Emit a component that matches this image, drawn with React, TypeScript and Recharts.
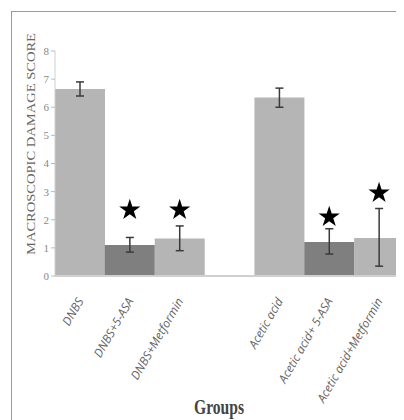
import { Bar, Cell, ComposedChart, ErrorBar, Label, Scatter, XAxis, YAxis, ZAxis } from "recharts";

const groups = [
  "DNBS",
  "DNBS+5-ASA",
  "DNBS+Metformin",
  "",
  "Acetic acid",
  "Acetic acid+ 5-ASA",
  "Acetic acid+Metformin",
];
const scores = [6.65, 1.1, 1.33, null, 6.35, 1.21, 1.35];
const errors = [
  [0.25, 0.25],
  [0.25, 0.27],
  [0.43, 0.45],
  null,
  [0.35, 0.33],
  [0.43, 0.47],
  [1.0, 1.05],
];
const stars = [null, 2.35, 2.35, null, null, 2.1, 2.95];
const dark = [false, true, false, false, false, true, false];
const yTicks = [0, 1, 2, 3, 4, 5, 6, 7, 8];

const data = groups.map((g, i) => ({
  group: g,
  score: scores[i],
  err: errors[i],
  star: stars[i],
}));

function GroupTick({ x, y, payload }: any) {
  const tx = x + 4;
  const ty = y + 17;
  return (
    <text
      x={tx}
      y={ty}
      transform={`rotate(-60, ${tx}, ${ty})`}
      textAnchor="end"
      fontSize={12}
      fontStyle="italic"
      fontFamily="'Open Sans', sans-serif"
      fill="#666"
    >
      {payload.value}
    </text>
  );
}

function YTitle({ viewBox }: any) {
  const cx = 22;
  const cy = 136;
  return (
    <text
      x={cx}
      y={cy}
      transform={`rotate(-90, ${cx}, ${cy})`}
      textAnchor="middle"
      dominantBaseline="central"
      fontSize={13}
      textLength={222}
      lengthAdjust="spacingAndGlyphs"
      fontFamily="'Liberation Serif', 'DejaVu Serif', serif"
      fill="#666"
    >
      MACROSCOPIC DAMAGE SCORE
    </text>
  );
}

function XTitle() {
  return (
    <text
      x={211}
      y={406}
      textAnchor="middle"
      fontSize={21}
      fontWeight="bold"
      textLength={50}
      lengthAdjust="spacingAndGlyphs"
      fontFamily="'Liberation Serif', 'DejaVu Serif', serif"
      fill="#444"
    >
      Groups
    </text>
  );
}

export default function App() {
  return (
    <div style={{ position: "relative", width: 396, height: 412 }}>
      <div
        style={{
          position: "absolute",
          left: 3,
          top: 3,
          right: 0,
          bottom: 0,
          borderTop: "1px solid #9a9a9a",
          borderLeft: "1px solid #9a9a9a",
        }}
      />
      <ComposedChart
        width={396}
        height={412}
        data={data}
        margin={{ top: 43, right: 0, bottom: 0, left: 0 }}
        barCategoryGap={0}
      >
        <XAxis
          dataKey="group"
          interval={0}
          height={144}
          tickLine={false}
          axisLine={{ stroke: "#d0d0d0", strokeWidth: 2 }}
          tick={<GroupTick />}
        >
          <Label content={<XTitle />} />
        </XAxis>
        <YAxis
          width={47}
          domain={[0, 8]}
          ticks={yTicks}
          tickSize={4}
          tickLine={{ stroke: "#bbb" }}
          axisLine={{ stroke: "#cfcfcf" }}
          tick={{
            fontSize: 11,
            fill: "#888",
            fontFamily: "'Liberation Serif', serif",
          }}
        >
          <Label content={<YTitle />} />
        </YAxis>
        <ZAxis range={[140, 140]} />
        <Bar dataKey="score" isAnimationActive={false}>
          {data.map((d, i) => (
            <Cell key={d.group + i} fill={dark[i] ? "#7f7f7f" : "#b5b5b5"} />
          ))}
          <ErrorBar
            dataKey="err"
            width={4}
            stroke="#3a3a3a"
            strokeWidth={1.5}
          />
        </Bar>
        <Scatter
          dataKey="star"
          shape="star"
          fill="#000"
          isAnimationActive={false}
        />
      </ComposedChart>
    </div>
  );
}
